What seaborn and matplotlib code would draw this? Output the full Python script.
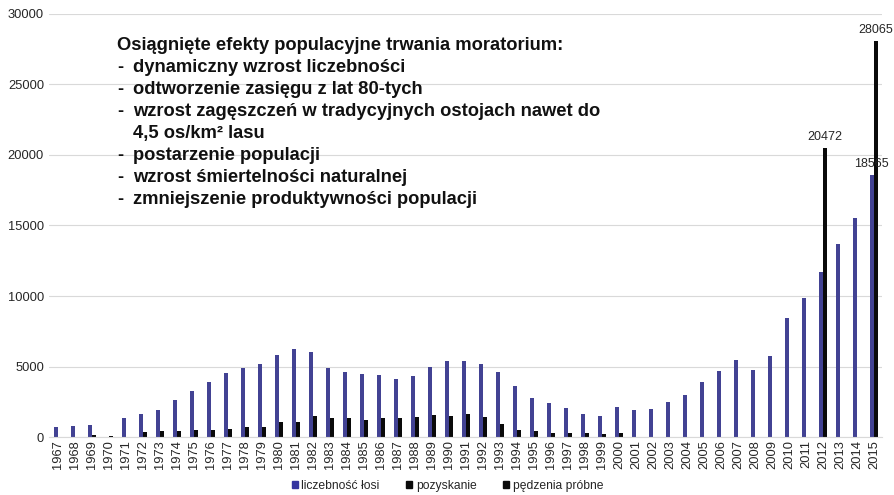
import matplotlib
matplotlib.use("Agg")
import matplotlib.pyplot as plt
from matplotlib.patches import Patch
import numpy as np
import seaborn as sns
import pandas as pd

years = list(range(1967, 2016))

liczebnosc = [750, 790, 830, 0, 1350, 1620, 1920, 2600, 3280, 3870,
              4530, 4880, 5160, 5820, 6220, 6030, 4880, 4600, 4480, 4420,
              4100, 4320, 4950, 5420, 5380, 5180, 4600, 3630, 2750, 2390,
              2060, 1660, 1480, 2110, 1920, 1960, 2490, 2960, 3920, 4650,
              5460, 4740, 5730, 8420, 9890, 11710, 13690, 15510, 18565]

pozyskanie = [0, 0, 140, 90, 0, 350, 440, 460, 510, 510,
              600, 700, 750, 1060, 1100, 1500, 1380, 1380, 1240, 1380,
              1340, 1430, 1550, 1500, 1640, 1430, 940, 510, 460, 280,
              280, 280, 230, 270, 0, 0, 0, 0, 0, 0,
              0, 0, 0, 0, 0, 0, 0, 0, 0]

pedzenia = [0] * 45 + [20472, 0, 0, 28065]

series_names = ["liczebność łosi", "pozyskanie", "pędzenia próbne"]

heading = "Osiągnięte efekty populacyjne trwania moratorium:"
bullets = ["dynamiczny wzrost liczebności",
           "odtworzenie zasięgu z lat 80-tych",
           "wzrost zagęszczeń w tradycyjnych ostojach nawet do",
           "4,5 os/km² lasu",
           "postarzenie populacji",
           "wzrost śmiertelności naturalnej",
           "zmniejszenie produktywności populacji"]

# long table; both black series share the second slot next to the blue bar
df = pd.concat([
    pd.DataFrame({"rok": years, "wartosc": liczebnosc, "slot": "a"}),
    pd.DataFrame({"rok": years, "wartosc": pozyskanie, "slot": "b"}),
    pd.DataFrame({"rok": years, "wartosc": pedzenia, "slot": "b"}),
])
df["rok"] = df["rok"].astype(str)

sns.set_style("white")
plt.rcParams["font.family"] = ["Liberation Sans", "DejaVu Sans"]

blue = "#3535a0"
black = "#0a0a0a"
txt = "#262626"

fig = plt.figure(figsize=(8.95, 4.95), dpi=100)
ax = fig.add_axes([0.0553, 0.117, 0.9307, 0.855])

sns.barplot(data=df, x="rok", y="wartosc", hue="slot", hue_order=["a", "b"],
            estimator="sum", errorbar=None, palette=[blue, black],
            width=0.5, dodge=True, legend=False, ax=ax, linewidth=0)

ax.set_ylim(0, 30000)
ax.set_yticks(range(0, 30001, 5000))
ax.set_xlabel("")
ax.set_ylabel("")
ax.yaxis.grid(True, color="#d9d9d9", linewidth=0.8)
ax.set_axisbelow(True)
for side in ["top", "right", "left"]:
    ax.spines[side].set_visible(False)
ax.spines["bottom"].set_color("#d9d9d9")
ax.tick_params(axis="x", labelrotation=90, labelsize=9.3, length=0, pad=2, colors=txt)
ax.tick_params(axis="y", labelsize=9.3, length=0, pad=4, colors=txt)

# value labels
blue_labels = ["" for _ in years]
blue_labels[-1] = str(liczebnosc[-1])
black_labels = [str(v) if v > 0 else "" for v in pedzenia]
ax.bar_label(ax.containers[0], labels=blue_labels, fontsize=9, padding=4, color=txt)
ax.bar_label(ax.containers[1], labels=black_labels, fontsize=9, padding=4, color=txt)

# text block
x_dash = 117 / 895
x_text = 133 / 895
y0 = 1 - 45 / 495
step = 22.1 / 495
fs = 13.2
fig.text(x_dash, y0, heading, fontsize=fs, fontweight="bold", va="center", color="#111111")
for i, line in enumerate(bullets):
    y = y0 - (i + 1) * step
    if not line.startswith("4,5"):
        fig.text(x_dash, y, "-", fontsize=fs, fontweight="bold", va="center", color="#111111")
    fig.text(x_text, y, line, fontsize=fs, fontweight="bold", va="center", color="#111111")

handles = [Patch(color=blue), Patch(color=black), Patch(color=black)]
fig.legend(handles, series_names, loc="center", bbox_to_anchor=(0.5, 1 - 486 / 495),
           ncol=3, frameon=False, fontsize=8.7, handlelength=0.5, handleheight=0.5,
           handletextpad=0.3, columnspacing=2.2)

fig.savefig("out.png", dpi=100)
